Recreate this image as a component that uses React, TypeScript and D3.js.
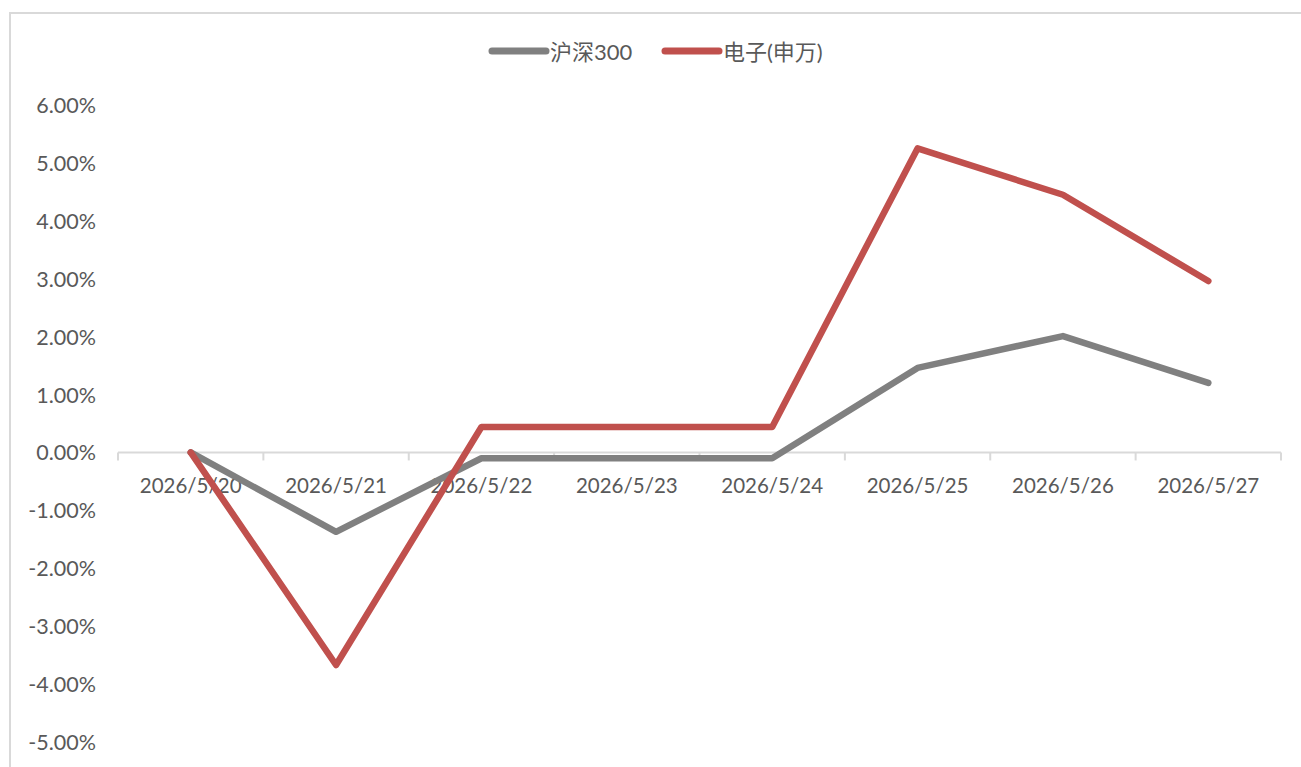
import * as d3 from "d3";

const categories = [
  "2026/5/20",
  "2026/5/21",
  "2026/5/22",
  "2026/5/23",
  "2026/5/24",
  "2026/5/25",
  "2026/5/26",
  "2026/5/27",
];
const hs300 = [0, -1.37, -0.1, -0.1, -0.1, 1.46, 2.01, 1.2];
const electronics = [0, -3.67, 0.44, 0.44, 0.44, 5.25, 4.45, 2.96];
const yTicks = [6, 5, 4, 3, 2, 1, 0, -1, -2, -3, -4, -5];

const W = 1301;
const H = 767;
const PLOT = { left: 118, right: 1281, top: 105, bottom: 742 };
const FONT = "Lato, 'Noto Sans CJK SC', sans-serif";
const TEXT = "#595959";

const series = [
  { name: "沪深300", values: hs300, color: "#808080" },
  { name: "电子(申万)", values: electronics, color: "#C0504D" },
];

// Excel-style percent label with a plain hyphen minus
const pct = (v: number) => (v < 0 ? "-" : "") + d3.format(".2f")(Math.abs(v)) + "%";

export default function App() {
  const x = d3
    .scaleBand<string>()
    .domain(categories)
    .range([PLOT.left, PLOT.right]);
  const y = d3.scaleLinear().domain([-5, 6]).range([PLOT.bottom, PLOT.top]);
  const line = d3
    .line<number>()
    .x((_, i) => (x(categories[i]) ?? 0) + x.bandwidth() / 2)
    .y((d) => y(d));

  const y0 = y(0);
  const boundaries = [...categories.map((c) => x(c) ?? 0), PLOT.right];

  return (
    <svg
      width={W}
      height={H}
      style={{ position: "absolute", left: 0, top: 0, background: "#fff" }}
      fontFamily={FONT}
    >
      {/* chart frame */}
      <rect x={10} y={13} width={W + 20} height={H + 20} fill="none" stroke="#d9d9d9" strokeWidth={2} />

      {/* legend */}
      <g>
        <line x1={492} x2={546} y1={51} y2={51} stroke={series[0].color} strokeWidth={7} strokeLinecap="round" />
        <text x={550} y={51} dominantBaseline="central" fontSize={22} fill={TEXT}>
          {series[0].name}
        </text>
        <line x1={665} x2={719} y1={51} y2={51} stroke={series[1].color} strokeWidth={7} strokeLinecap="round" />
        <text x={723} y={51} dominantBaseline="central" fontSize={22} fill={TEXT}>
          {series[1].name}
        </text>
      </g>

      {/* y labels */}
      {yTicks.map((t) => (
        <text
          key={t}
          x={96}
          y={y(t)}
          textAnchor="end"
          dominantBaseline="central"
          fontSize={21.5}
          fill={TEXT}
        >
          {pct(t)}
        </text>
      ))}

      {/* x axis */}
      <line x1={PLOT.left} x2={PLOT.right} y1={y0} y2={y0} stroke="#d9d9d9" strokeWidth={2} />
      {boundaries.map((bx, i) => (
        <line key={i} x1={bx} x2={bx} y1={y0} y2={y0 + 8} stroke="#d9d9d9" strokeWidth={2} />
      ))}
      {categories.map((c) => (
        <text
          key={c}
          x={(x(c) ?? 0) + x.bandwidth() / 2}
          y={y0 + 33}
          textAnchor="middle"
          dominantBaseline="central"
          fontSize={20.5}
          fill={TEXT}
        >
          {c}
        </text>
      ))}

      {/* lines */}
      {series.map((s) => (
        <path
          key={s.name}
          d={line(s.values) ?? ""}
          fill="none"
          stroke={s.color}
          strokeWidth={6.5}
          strokeLinejoin="round"
          strokeLinecap="round"
        />
      ))}
    </svg>
  );
}
